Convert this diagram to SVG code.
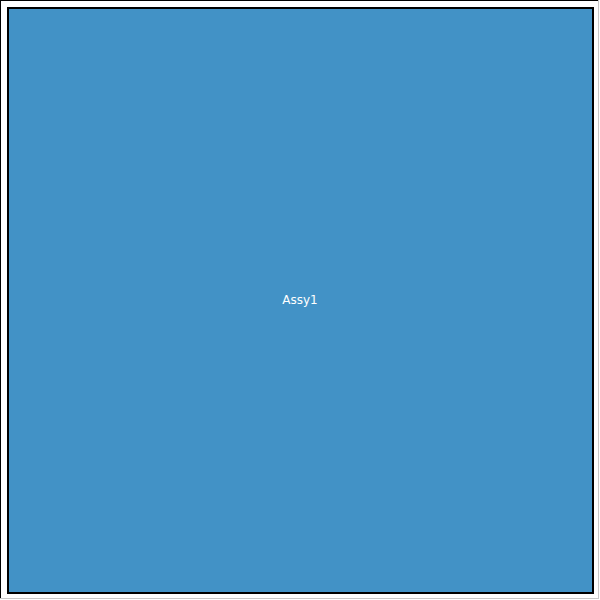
<svg xmlns="http://www.w3.org/2000/svg" width="600" height="600" viewBox="0 0 600 600">
<style>
.dark{stroke:#000;stroke-width:1}
.light{stroke:#c8c8c8;stroke-width:1}
.node{fill:#4292c6;stroke:#000;stroke-width:2}
.lbl{font-family:"DejaVu Sans",sans-serif;font-size:12px;fill:#fff;text-anchor:middle}
</style>
<rect x="0" y="0" width="600" height="600" fill="#fff"/>
<line class="dark" x1="0.5" y1="0" x2="0.5" y2="599"/>
<line class="dark" x1="0" y1="0.5" x2="599" y2="0.5"/>
<line class="light" x1="598.5" y1="0" x2="598.5" y2="599"/>
<line class="light" x1="0" y1="598.5" x2="599" y2="598.5"/>
<g id="connectors"></g>
<g id="node-Assy1">
<rect class="node" x="8" y="8" width="585" height="585"/>
<text class="lbl" x="300" y="304">Assy1</text>
</g>
</svg>
